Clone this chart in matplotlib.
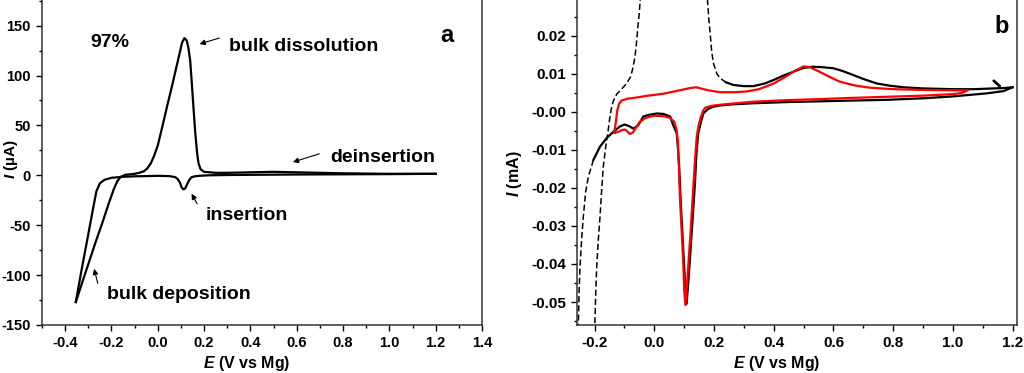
import matplotlib
matplotlib.use("Agg")
import matplotlib.pyplot as plt
from matplotlib.ticker import MultipleLocator, FormatStrFormatter

plt.rcParams["font.family"] = ["Liberation Sans", "DejaVu Sans"]
plt.rcParams["font.weight"] = "bold"
plt.rcParams["axes.unicode_minus"] = False
plt.rcParams["mathtext.fontset"] = "custom"
plt.rcParams["mathtext.it"] = "Liberation Sans:bold:italic"
plt.rcParams["mathtext.rm"] = "Liberation Sans:bold"

# panel a: CV, anodic branch (from the negative vertex up to 1.2 V)
a_anod_E = [-0.354, -0.33, -0.30, -0.27, -0.24, -0.21, -0.19, -0.175, -0.16, -0.14,
            -0.12, -0.10, -0.08, -0.06, -0.045, -0.03, -0.015, 0.0, 0.02, 0.04,
            0.06, 0.08, 0.095, 0.105, 0.115, 0.125, 0.132, 0.14, 0.147, 0.155,
            0.162, 0.17, 0.176, 0.185, 0.20, 0.25, 0.3, 0.4, 0.5, 0.6, 0.7, 0.8, 1.0, 1.2]
a_anod_I = [-127, -110, -89, -68, -48, -27, -14, -6, -1.5, 0.5,
            1, 1.5, 2.5, 4, 7, 12, 20, 30, 49, 69,
            88, 108, 123, 133, 137.5, 135, 128, 115, 92, 65,
            42, 22, 12, 6, 3.5, 2.5, 2.5, 3, 3.5, 3, 2.5, 2, 1.5, 1.5]

# panel a: cathodic branch (from 1.2 V down to the negative vertex)
a_cath_E = [1.2, 1.0, 0.8, 0.6, 0.4, 0.3, 0.22, 0.18, 0.16, 0.145, 0.135, 0.125,
            0.117, 0.110, 0.103, 0.095, 0.085, 0.075, 0.05, 0.0, -0.05, -0.1, -0.15,
            -0.2, -0.23, -0.25, -0.265, -0.28, -0.30, -0.33, -0.354]
a_cath_I = [1.5, 1.2, 1.0, 0.8, 0.5, 0.3, 0, -0.5, -1.0, -2.0, -5.0, -10,
            -13.5, -14, -12, -7, -3.5, -1.8, -0.8, -0.5, -0.8, -1.0, -1.5,
            -2.5, -4.5, -8, -16, -34, -59, -96, -127]

# panel b: red cycle
b_red_E = [-0.134, -0.128, -0.124, -0.118, -0.11, -0.09, -0.06, -0.03, 0.0, 0.03, 0.06,
           0.09, 0.12, 0.14, 0.16, 0.18, 0.22, 0.27, 0.31, 0.35, 0.40, 0.44, 0.47, 0.50,
           0.52, 0.55, 0.58, 0.62, 0.67, 0.72, 0.80, 0.90, 1.0, 1.05,
           1.03, 1.0, 0.9, 0.78, 0.66, 0.556, 0.44, 0.33, 0.26, 0.22, 0.19, 0.17,
           0.164, 0.155, 0.147, 0.142, 0.136, 0.128, 0.121, 0.114, 0.109, 0.104,
           0.100, 0.097, 0.092, 0.086, 0.082, 0.079, 0.074, 0.066, 0.05, 0.03, 0.0,
           -0.015, -0.03, -0.049, -0.062, -0.072, -0.082, -0.092, -0.10, -0.11, -0.12, -0.134]
b_red_I = [-0.0055, -0.002, 0.0005, 0.0022, 0.003, 0.0035, 0.0038, 0.0042, 0.0045, 0.0048, 0.0053,
           0.0058, 0.0063, 0.0065, 0.0061, 0.0057, 0.0052, 0.0052, 0.0054, 0.006, 0.0075, 0.0093, 0.0108, 0.012,
           0.0118, 0.0107, 0.0095, 0.008, 0.007, 0.0064, 0.006, 0.0058, 0.0057, 0.0057,
           0.005, 0.0047, 0.0043, 0.004, 0.0037, 0.0034, 0.0031, 0.0027, 0.0022, 0.0019, 0.0016, 0.0011,
           0.0004, -0.0015, -0.004, -0.0065, -0.013, -0.023, -0.032, -0.040, -0.046, -0.0508,
           -0.047, -0.040, -0.032, -0.023, -0.014, -0.008, -0.0045, -0.0025, -0.0015, -0.0011, -0.001,
           -0.0012, -0.0016, -0.0026, -0.0042, -0.0054, -0.0058, -0.005, -0.0046, -0.0048, -0.0052, -0.0055]

# panel b: black cycle, cathodic sweep from 1.2 V
b_blk_cath_E = [1.2, 1.17, 1.114, 1.0, 0.9, 0.78, 0.66, 0.555, 0.44, 0.332, 0.26, 0.22,
                0.198, 0.18, 0.164, 0.155, 0.147, 0.141, 0.136, 0.13, 0.125, 0.119, 0.114,
                0.108, 0.104, 0.1, 0.094, 0.088, 0.083, 0.078, 0.075, 0.063, 0.053, 0.03,
                0.008, -0.015, -0.037, -0.054, -0.07, -0.085, -0.1, -0.115, -0.137, -0.16,
                -0.182, -0.204]
b_blk_cath_I = [0.0065, 0.0055, 0.0049, 0.0041, 0.0036, 0.0032, 0.003, 0.0028, 0.0026, 0.0023, 0.002, 0.0017,
                0.0014, 0.0008, -0.0004, -0.003, -0.0056, -0.011, -0.0188, -0.026, -0.0319, -0.039, -0.0445,
                -0.0505, -0.047, -0.0407, -0.032, -0.0232, -0.014, -0.0085, -0.0056, -0.0034, -0.0012, -0.0005,
                -0.0004, -0.0007, -0.0012, -0.0035, -0.0044, -0.0037, -0.0033, -0.0038, -0.0052, -0.0069,
                -0.0091, -0.0126]
# bulk deposition tail
b_blk_dep_E = [-0.204, -0.221, -0.23, -0.238, -0.244, -0.249, -0.252, -0.254, -0.256]
b_blk_dep_I = [-0.0126, -0.017, -0.021, -0.0276, -0.034, -0.0407, -0.047, -0.0539, -0.058]
# anodic sweep up into bulk dissolution
b_blk_up_E = [-0.2, -0.199, -0.196, -0.193, -0.188, -0.182, -0.176, -0.171, -0.165, -0.16, -0.155,
              -0.15, -0.145, -0.138, -0.126, -0.11, -0.093, -0.08, -0.072, -0.065, -0.06, -0.055,
              -0.05, -0.046]
b_blk_up_I = [-0.058, -0.0547, -0.047, -0.0407, -0.034, -0.0276, -0.02, -0.0144, -0.0105, -0.0075, -0.005,
              -0.002, 0.0005, 0.0028, 0.0047, 0.006, 0.0075, 0.0092, 0.0115, 0.0145, 0.018, 0.0225,
              0.0265, 0.031]
b_blk_down_E = [0.176, 0.178, 0.183, 0.187, 0.192, 0.198, 0.21, 0.22, 0.24]
b_blk_down_I = [0.031, 0.0295, 0.024, 0.0207, 0.016, 0.0128, 0.0100, 0.0089, 0.0078]
b_blk_ret_E = [0.24, 0.265, 0.30, 0.332, 0.37, 0.399, 0.43, 0.466, 0.50, 0.53, 0.56, 0.6, 0.63,
               0.667, 0.70, 0.745, 0.79, 0.835, 0.9, 1.0, 1.07, 1.136, 1.17, 1.2]
b_blk_ret_I = [0.0078, 0.0071, 0.0068, 0.0068, 0.0075, 0.0084, 0.0095, 0.0106, 0.0116, 0.0119, 0.0118, 0.0115, 0.0108,
               0.0097, 0.0087, 0.0075, 0.0069, 0.0065, 0.0062, 0.006, 0.006, 0.0062, 0.0063, 0.0065]

fig = plt.figure(figsize=(10.24, 3.73), dpi=100)
ax1 = fig.add_axes([0.041, 0.1287, 0.4297, 0.8743])
ax2 = fig.add_axes([0.5635, 0.1287, 0.4297, 0.8743])

for ax, lsize in ((ax1, 10.5), (ax2, 11)):
    for s in ax.spines.values():
        s.set_linewidth(1.1)
        s.set_color("#333333")
    ax.tick_params(which="both", direction="out", top=False, right=False)
    ax.tick_params(which="major", length=4.5, width=1.0, labelsize=lsize)
    ax.tick_params(which="minor", length=2.5, width=1.0)

# ---- panel a
ax1.plot(a_anod_E, a_anod_I, color="black", lw=1.6)
ax1.plot(a_cath_E, a_cath_I, color="black", lw=1.6)
ax1.set_xlim(-0.5, 1.4)
ax1.set_ylim(-150, 176.8)
ax1.xaxis.set_major_locator(MultipleLocator(0.2))
ax1.xaxis.set_minor_locator(MultipleLocator(0.1))
ax1.yaxis.set_major_locator(MultipleLocator(50))
ax1.yaxis.set_minor_locator(MultipleLocator(25))
ax1.xaxis.set_major_formatter(FormatStrFormatter("%.1f"))
ax1.set_xlabel(r"$E$ (V vs Mg)", fontsize=11.5, fontweight="bold")
ax1.set_ylabel(r"$I$ (µA)", fontsize=11, fontweight="bold")
ax1.xaxis.set_label_coords(0.466, -0.09)
ax1.yaxis.set_label_coords(-0.049, 0.508)

arrow = dict(arrowstyle="-|>", color="black", lw=0.8, mutation_scale=8)
ax1.text(-0.205, 129, "97%", fontsize=14, fontweight="bold", ha="center", va="baseline")
ax1.text(1.25, 134, "a", fontsize=17, fontweight="bold", ha="center", va="baseline")
ax1.annotate("", xy=(0.169, 130.7), xytext=(0.277, 138.4), arrowprops=arrow)
ax1.text(0.308, 125, "bulk dissolution", fontsize=14, fontweight="bold", va="baseline")
ax1.annotate("", xy=(0.572, 12.4), xytext=(0.709, 22.4), arrowprops=arrow)
ax1.text(0.745, 13.4, "deinsertion", fontsize=14, fontweight="bold", va="baseline")
ax1.annotate("", xy=(0.14, -16), xytext=(0.176, -31), arrowprops=arrow)
ax1.text(0.205, -44.3, "insertion", fontsize=14, fontweight="bold", va="baseline")
ax1.annotate("", xy=(-0.278, -91), xytext=(-0.256, -111), arrowprops=arrow)
ax1.text(-0.22, -124.3, "bulk deposition", fontsize=14, fontweight="bold", va="baseline")

# ---- panel b
dash = (0, (4, 2))
ax2.plot(b_blk_cath_E, b_blk_cath_I, color="black", lw=1.6)
ax2.plot(b_blk_dep_E, b_blk_dep_I, color="black", lw=1.1, ls=dash)
ax2.plot(b_blk_up_E, b_blk_up_I, color="black", lw=1.1, ls=dash)
ax2.plot(b_blk_down_E, b_blk_down_I, color="black", lw=1.1, ls=dash)
ax2.plot(b_blk_ret_E, b_blk_ret_I, color="black", lw=1.6)
ax2.plot(b_red_E, b_red_I, color="#ff0000", lw=1.6)
# small scan-direction hook near the right vertex
ax2.annotate("", xy=(1.157, 0.0068), xytext=(1.137, 0.0082),
             arrowprops=dict(arrowstyle="-", color="black", lw=2.0, shrinkA=0, shrinkB=0))
ax2.set_xlim(-0.259, 1.215)
ax2.set_ylim(-0.05605, 0.02976)
ax2.xaxis.set_major_locator(MultipleLocator(0.2))
ax2.xaxis.set_minor_locator(MultipleLocator(0.1))
ax2.yaxis.set_major_locator(MultipleLocator(0.01))
ax2.yaxis.set_minor_locator(MultipleLocator(0.005))
ax2.xaxis.set_major_formatter(FormatStrFormatter("%.1f"))
ax2.yaxis.set_major_formatter(FormatStrFormatter("%.2f"))
ax2.set_xlabel(r"$E$ (V vs Mg)", fontsize=11.5, fontweight="bold")
ax2.set_ylabel(r"$I$ (mA)", fontsize=11.5, fontweight="bold")
ax2.xaxis.set_label_coords(0.454, -0.09)
ax2.yaxis.set_label_coords(-0.12, 0.463)
ax2.text(1.164, 0.0207, "b", fontsize=17, fontweight="bold", ha="center", va="baseline")

for ax in (ax1, ax2):
    for lab in ax.get_xticklabels() + ax.get_yticklabels():
        lab.set_fontweight("bold")

fig.savefig("out.png", dpi=100)
